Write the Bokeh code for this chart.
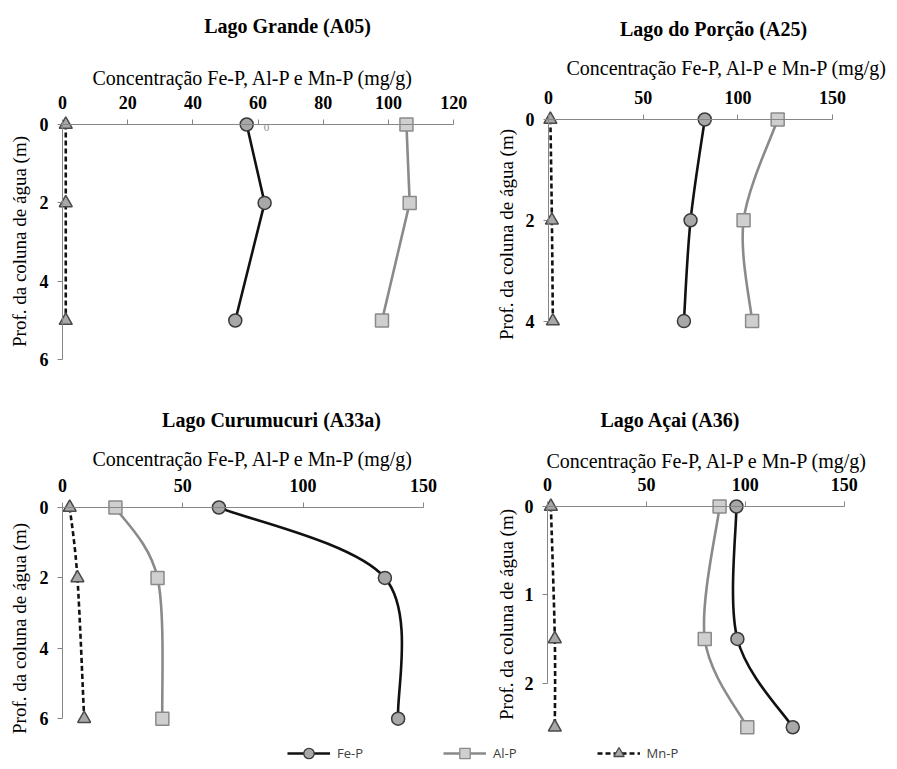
from bokeh.plotting import figure
from bokeh.models import (Range1d, LinearAxis, Label, FixedTicker, Legend, LegendItem,
                          ColumnDataSource)
from bokeh.layouts import column, row
from bokeh.embed import file_html
from bokeh.resources import INLINE

# ---------------- data ----------------
series_names = ["Fe-P", "Al-P", "Mn-P"]
x_title = "Concentração Fe-P, Al-P e Mn-P (mg/g)"
y_title = "Prof. da coluna de água (m)"

a05_title = "Lago Grande (A05)"
a05_depth = [0, 2, 5]
a05_fe = [56.5, 62, 53]
a05_al = [105.5, 106.5, 98]
a05_mn = [1, 1, 1]
a05_xticks = [0, 20, 40, 60, 80, 100, 120]
a05_yticks = [0, 2, 4, 6]

a25_title = "Lago do Porção (A25)"
a25_depth = [0, 2, 4]
a25_fe = [82.5, 75, 71.5]
a25_al = [121, 103, 107.5]
a25_mn = [1, 1.8, 2.3]
a25_xticks = [0, 50, 100, 150]
a25_yticks = [0, 2, 4]

a33_title = "Lago Curumucuri (A33a)"
a33_depth = [0, 2, 6]
a33_fe = [65, 134, 139.5]
a33_al = [22, 39.5, 41.5]
a33_mn = [3, 6.2, 9]
a33_xticks = [0, 50, 100, 150]
a33_yticks = [0, 2, 4, 6]

a36_title = "Lago Açai (A36)"
a36_depth = [0, 1.5, 2.5]
a36_fe = [95.5, 96, 124]
a36_al = [87, 79.5, 101]
a36_mn = [1.7, 3.7, 3.7]
a36_xticks = [0, 50, 100, 150]
a36_yticks = [0, 1, 2]

# ---------------- styles ----------------
SERIF = "Liberation Serif"
AXIS_COLOR = "#868686"
STY = {
    "Fe-P": dict(line_color="#111111", dash="solid", marker="circle",
                 fill="#a8a8a8", mline="#3a3a3a", size=13),
    "Al-P": dict(line_color="#8a8a8a", dash="solid", marker="square",
                 fill="#cfcfcf", mline="#8a8a8a", size=13),
    "Mn-P": dict(line_color="#111111", dash="5 3", marker="triangle",
                 fill="#a8a8a8", mline="#4a4a4a", size=13),
}


def bezier_source(xs, ys, t=1.0 / 6.0):
    n = len(xs)
    d = dict(x0=[], y0=[], x1=[], y1=[], cx0=[], cy0=[], cx1=[], cy1=[])
    for i in range(n - 1):
        im, ip = max(i - 1, 0), min(i + 2, n - 1)
        d["x0"].append(xs[i]); d["y0"].append(ys[i])
        d["x1"].append(xs[i + 1]); d["y1"].append(ys[i + 1])
        d["cx0"].append(xs[i] + (xs[i + 1] - xs[im]) * t)
        d["cy0"].append(ys[i] + (ys[i + 1] - ys[im]) * t)
        d["cx1"].append(xs[i + 1] - (xs[ip] - xs[i]) * t)
        d["cy1"].append(ys[i + 1] - (ys[ip] - ys[i]) * t)
    return ColumnDataSource(d)


def panel(title, depth, fe, al, mn, xticks, yticks, geo, smooth):
    # geo: page position of the axes origin (ox, oy), px per unit (sx, sy),
    # figure box on the page, and page positions of the title / axis titles
    ox, oy, sx, sy = geo["ox"], geo["oy"], geo["sx"], geo["sy"]
    fx, fy, fw, fh = geo["fig"]
    xe, ye = xticks[-1], yticks[-1]
    p = figure(width=fw, height=fh, min_border=0,
               x_range=Range1d((fx - ox) / sx, (fx + fw - ox) / sx),
               y_range=Range1d((fy + fh - oy) / sy, (fy - oy) / sy),
               x_axis_location=None, y_axis_location=None,
               toolbar_location=None, output_backend="svg")
    p.outline_line_color = None
    p.xgrid.visible = False
    p.ygrid.visible = False
    p.background_fill_color = "white"
    p.border_fill_color = "white"

    xa = LinearAxis(fixed_location=0, bounds=(0, xe), ticker=FixedTicker(ticks=xticks))
    ya = LinearAxis(fixed_location=0, bounds=(0, ye), ticker=FixedTicker(ticks=yticks))
    for ax in (xa, ya):
        ax.axis_line_color = AXIS_COLOR
        ax.axis_line_width = 1
        ax.major_tick_line_color = AXIS_COLOR
        ax.major_tick_in = 0
        ax.major_tick_out = 5
        ax.minor_tick_line_color = None
        ax.major_label_text_font = SERIF
        ax.major_label_text_font_style = "bold"
        ax.major_label_text_font_size = "18px"
        ax.major_label_text_color = "black"
    xa.major_label_standoff = 11
    ya.major_label_standoff = 9
    p.add_layout(xa, "above")
    p.add_layout(ya, "left")

    def to_data(px, py):
        return (px - ox) / sx, (py - oy) / sy

    tx, ty = to_data(*geo["title"])
    p.add_layout(Label(x=tx, y=ty, text=title, text_align="center",
                       text_baseline="alphabetic", text_font=SERIF,
                       text_font_style="bold", text_font_size="20px", text_color="black"))
    lx, ly = to_data(*geo["xlabel"])
    p.add_layout(Label(x=lx, y=ly, text=x_title, text_align="center",
                       text_baseline="alphabetic", text_font=SERIF,
                       text_font_size="20px", text_color="black"))
    yx, yy = to_data(*geo["ylabel"])
    p.add_layout(Label(x=yx, y=yy, text=y_title, text_align="center",
                       text_baseline="middle", angle=90, angle_units="deg",
                       text_font=SERIF, text_font_size="19px", text_color="black"))

    for name, vals in zip(series_names, (fe, al, mn)):
        st = STY[name]
        if smooth:
            p.bezier(x0="x0", y0="y0", x1="x1", y1="y1", cx0="cx0", cy0="cy0",
                     cx1="cx1", cy1="cy1", source=bezier_source(vals, depth),
                     line_color=st["line_color"], line_width=2.6, line_dash=st["dash"])
        else:
            p.line(vals, depth, line_color=st["line_color"], line_width=2.6,
                   line_dash=st["dash"])
    for name, vals in zip(series_names, (fe, al, mn)):
        st = STY[name]
        p.scatter(vals, depth, marker=st["marker"], size=st["size"],
                  fill_color=st["fill"], line_color=st["mline"], line_width=1.5)
    return p


p1 = panel(a05_title, a05_depth, a05_fe, a05_al, a05_mn, a05_xticks, a05_yticks,
           dict(ox=62, oy=124, sx=3.26, sy=39.2, fig=(0, 0, 470, 375),
                title=(287, 25), xlabel=(253, 77), ylabel=(19, 241)), smooth=False)
# stray "0" seen beside the Fe-P point in the original chart
p1.add_layout(Label(x=(266 - 62) / 3.26, y=(127 - 124) / 39.2, text="0",
                    text_align="center", text_baseline="middle", text_font=SERIF,
                    text_font_size="11px", text_color="#8a8a8a"))

p2 = panel(a25_title, a25_depth, a25_fe, a25_al, a25_mn, a25_xticks, a25_yticks,
           dict(ox=548, oy=119, sx=1.894, sy=50.4, fig=(470, 0, 427, 375),
                title=(713, 28), xlabel=(727, 67), ylabel=(506, 234)), smooth=True)

p3 = panel(a33_title, a33_depth, a33_fe, a33_al, a33_mn, a33_xticks, a33_yticks,
           dict(ox=62, oy=507, sx=2.406, sy=35.2, fig=(0, 375, 470, 362),
                title=(271, 419), xlabel=(253, 458), ylabel=(19, 628)), smooth=True)

p4 = panel(a36_title, a36_depth, a36_fe, a36_al, a36_mn, a36_xticks, a36_yticks,
           dict(ox=547, oy=506, sx=1.978, sy=88.3, fig=(470, 375, 427, 362),
                title=(670, 419), xlabel=(707, 460), ylabel=(506, 614)), smooth=True)

# ---------------- legend strip ----------------
pl = figure(width=897, height=32, x_range=Range1d(0, 1), y_range=Range1d(0, 1),
            x_axis_location=None, y_axis_location=None, toolbar_location=None,
            output_backend="svg", min_border=0)
pl.outline_line_color = None
pl.xgrid.visible = False
pl.ygrid.visible = False
nan = float("nan")
items = []
for name in series_names:
    st = STY[name]
    src = ColumnDataSource(dict(x=[nan], y=[nan]))
    r1 = pl.line("x", "y", source=src, line_color=st["line_color"], line_width=2.6,
                 line_dash=st["dash"])
    r2 = pl.scatter("x", "y", source=src, marker=st["marker"], fill_color=st["fill"],
                    line_color=st["mline"], line_width=1.3)
    items.append(LegendItem(label=name, renderers=[r1, r2]))
leg = Legend(items=items, orientation="horizontal", location=(287, 3),
             glyph_width=43, glyph_height=26, label_standoff=7, spacing=80,
             padding=0, margin=0, border_line_color=None, background_fill_alpha=0,
             label_text_font="Open Sans", label_text_font_size="13px",
             label_text_color="#404040")
pl.add_layout(leg, "center")

layout = column(row(p1, p2), row(p3, p4), pl)
open("out.html", "w").write(file_html(layout, INLINE))
